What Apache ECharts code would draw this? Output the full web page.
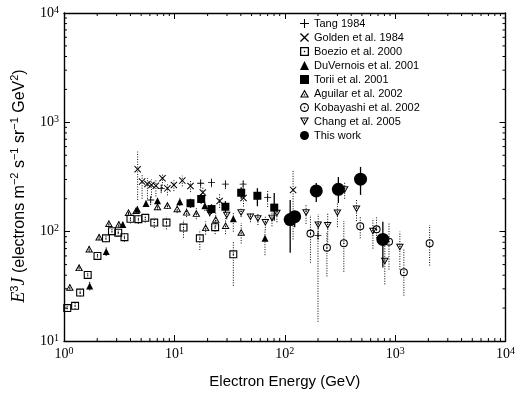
<!DOCTYPE html>
<html>
<head>
<meta charset="utf-8">
<script src="https://cdn.jsdelivr.net/npm/echarts@6/dist/echarts.min.js"></script>
<style>
  html, body { margin: 0; padding: 0; background: #fff; }
  #chart { width: 518px; height: 399px; }
</style>
</head>
<body>
<div id="chart"></div>
<script>
// data: energy (GeV), E^3 J, lower / upper error
var tangE = [6.1, 7.6, 17.3, 21.7, 29, 42, 70, 200];
var tangJ = [195, 249, 277, 282, 272, 272, 205, 92];
var tangLo = [175, 225, 250, 255, 245, 245, 168, 15];
var tangHi = [215, 275, 305, 310, 300, 300, 240, 120];

var goldenE = [4.65, 5.1, 5.7, 6.2, 6.8, 7.8, 8.65, 9.9, 11.8, 14, 18.1, 25.7, 42.3, 119];
var goldenJ = [372, 287, 273, 267, 263, 308, 249, 267, 293, 262, 228, 191, 203, 241];
var goldenLo = [195, 200, 200, 205, 210, 250, 215, 235, 260, 230, 200, 165, 170, 85];
var goldenHi = [540, 330, 310, 300, 295, 340, 280, 295, 325, 290, 255, 220, 240, 370];

var boezioE = [1.07, 1.26, 1.40, 1.64, 2.01, 2.40, 2.72, 3.10, 3.53, 4.0, 4.72, 5.45, 6.57, 8.48, 12.1, 17.0, 23.4, 34.2];
var boezioJ = [20, 21, 27.7, 40.2, 60, 87, 101, 98, 89, 131, 130, 134, 121, 121, 109, 87, 110, 62];
var boezioLo = [18.5, 19.5, 25.5, 37, 55, 80, 93, 90, 81, 119, 118, 121, 108, 105, 88, 68, 95, 32];
var boezioHi = [21.5, 22.5, 30, 43.5, 65, 94, 109, 106, 97, 143, 142, 147, 134, 137, 128, 104, 125, 80];

var duvE = [1.71, 2.41, 3.41, 4.62, 5.53, 7.03, 11.2, 18.9, 34.2, 66.2];
var duvJ = [31.8, 65.9, 116, 160, 181, 192, 188, 173, 131, 87];
var duvLo = [29, 60, 108, 150, 170, 178, 172, 155, 100, 61];
var duvHi = [35, 72, 125, 170, 192, 206, 204, 190, 150, 104];

var toriiE = [14, 17.5, 21.7, 29, 40.3, 56.5, 80.3];
var toriiJ = [182, 199, 161, 169, 227, 213, 166];
var toriiLo = [165, 180, 145, 150, 200, 171, 126];
var toriiHi = [200, 220, 178, 190, 255, 250, 226];

var aguilarE = [1.13, 1.37, 1.69, 2.08, 2.55, 3.14, 3.84, 4.5, 7.03, 8.65, 10.6, 12.9, 15.8, 19.2, 23.7, 29.1, 40.3];
var aguilarJ = [31, 46.9, 69.5, 89.4, 119, 117, 150, 156, 169, 174, 162, 151, 147, 109, 130, 114, 99];
var aguilarLo = [29, 44, 65, 84, 112, 110, 141, 147, 158, 162, 148, 136, 130, 94, 112, 95, 78];
var aguilarHi = [33, 50, 74, 95, 126, 124, 159, 165, 180, 186, 176, 166, 164, 124, 148, 133, 120];

var kobaE = [171, 241, 343, 483, 679, 880, 1200, 2055];
var kobaJ = [96, 71.4, 78.3, 112, 105, 81, 42.5, 78.3];
var kobaLo = [52, 39, 43, 87, 87, 45, 26, 49];
var kobaHi = [142, 100, 125, 140, 135, 120, 70, 115];

var changE = [20.9, 29.8, 40.2, 48.9, 57.1, 66.7, 76.6, 84.9, 156, 201, 245, 300, 349, 447, 629, 806, 1104];
var changJ = [148, 141, 149, 136, 131, 121, 133, 147, 149, 115, 114, 148, 242, 161, 101, 53.6, 72];
var changLo = [138, 130, 136, 122, 115, 103, 112, 122, 118, 85, 80, 110, 200, 125, 70, 33, 45];
var changHi = [158, 152, 162, 150, 147, 139, 154, 172, 180, 145, 150, 186, 280, 198, 132, 80, 100];

var workE = [112, 123, 193, 306, 486, 774];
var workJ = [129, 137, 236, 244, 302, 85];
var workLo = [64, 110, 187, 183, 217, 47];
var workHi = [195, 152, 279, 316, 391, 123];

var names = ['Tang 1984', 'Golden et al. 1984', 'Boezio et al. 2000', 'DuVernois et al. 2001',
  'Torii et al. 2001', 'Aguilar et al. 2002', 'Kobayashi et al. 2002', 'Chang et al. 2005', 'This work'];

// minor tick values for the log axes
var xMinor = [];
var yMinor = [];
[1, 10, 100, 1000].forEach(function (d) {
  for (var k = 2; k <= 9; k++) xMinor.push(d * k);
});
[10, 100, 1000].forEach(function (d) {
  for (var k = 2; k <= 9; k++) yMinor.push(d * k);
});

// marker shapes (outline + centre dot drawn as one filled path)
var SYM_PLUS = 'path://M4.4,0 H5.6 V4.4 H10 V5.6 H5.6 V10 H4.4 V5.6 H0 V4.4 H4.4 Z';
var SYM_CROSS = 'path://M0,1 L1,0 L5,4 L9,0 L10,1 L6,5 L10,9 L9,10 L5,6 L1,10 L0,9 L4,5 Z';
var SYM_SQDOT = 'path://M0,0 H10 V10 H0 Z M1.4,1.4 V8.6 H8.6 V1.4 Z M4.3,4.3 H5.7 V5.7 H4.3 Z';
var SYM_TRIDOT = 'path://M5,0 L10,9 L0,9 Z M5,2.6 L2.1,7.8 L7.9,7.8 Z M4.3,5.3 H5.7 V6.7 H4.3 Z';
var SYM_ITRIDOT = 'path://M0,0 L10,0 L5,9 Z M2.1,1.2 L5,6.4 L7.9,1.2 Z M4.3,2.3 H5.7 V3.7 H4.3 Z';
var SYM_CIRCDOT = 'path://M5,0 A5,5 0 1,1 5,10 A5,5 0 1,1 5,0 Z M5,1.3 A3.7,3.7 0 1,0 5,8.7 A3.7,3.7 0 1,0 5,1.3 Z M4.3,4.3 H5.7 V5.7 H4.3 Z';

function pts(xs, ys) {
  return xs.map(function (x, i) { return [x, ys[i]]; });
}
function bars(xs, lo, hi) {
  return xs.map(function (x, i) { return [x, lo[i], hi[i]]; });
}

var dotted = [].concat(
  bars(tangE, tangLo, tangHi), bars(goldenE, goldenLo, goldenHi),
  bars(boezioE, boezioLo, boezioHi), bars(duvE, duvLo, duvHi),
  bars(aguilarE, aguilarLo, aguilarHi), bars(kobaE, kobaLo, kobaHi),
  bars(changE, changLo, changHi)
);
var solid = [].concat(bars(toriiE, toriiLo, toriiHi), bars(workE, workLo, workHi));

function errBar(dash) {
  return function (params, api) {
    var a = api.coord([api.value(0), api.value(1)]);
    var b = api.coord([api.value(0), api.value(2)]);
    return {
      type: 'line',
      shape: { x1: a[0], y1: a[1], x2: b[0], y2: b[1] },
      style: { stroke: '#000', lineWidth: dash ? 1 : 1.3, lineDash: dash ? [1, 1.5] : null }
    };
  };
}

function supLabel(v) {
  var e = Math.round(Math.log10(v));
  return '{b|10}{s|' + e + '}';
}
var tickRich = {
  b: { fontFamily: 'Liberation Serif', fontSize: 14, color: '#000', lineHeight: 16 },
  s: { fontFamily: 'Liberation Serif', fontSize: 10, color: '#000', verticalAlign: 'top', lineHeight: 16 }
};

function scat(name, xs, ys, symbol, size) {
  return {
    name: name, type: 'scatter', data: pts(xs, ys),
    symbol: symbol, symbolSize: size,
    itemStyle: { color: '#000', opacity: 1 },
    z: 5
  };
}

var chart = echarts.init(document.getElementById('chart'));

chart.setOption({
  animation: false,
  backgroundColor: '#fff',
  grid: { left: 64, right: 9, top: 13, bottom: 58 },
  legend: {
    orient: 'vertical',
    left: 295,
    top: 13,
    itemWidth: 9,
    itemHeight: 9,
    itemGap: 3,
    data: names,
    textStyle: { fontFamily: 'Liberation Sans', fontSize: 11, color: '#000' }
  },
  xAxis: [{
    type: 'log', logBase: 10, min: 1, max: 10000,
    position: 'bottom',
    name: 'Electron Energy (GeV)',
    nameLocation: 'middle', nameGap: 33,
    nameTextStyle: { fontFamily: 'Liberation Sans', fontSize: 15, color: '#000' },
    axisLine: { lineStyle: { color: '#000', width: 1.4 } },
    axisTick: { inside: true, length: 6, lineStyle: { color: '#000' } },
    axisLabel: { formatter: supLabel, rich: tickRich, margin: 5 },
    splitLine: { show: false }
  }, {
    type: 'log', logBase: 10, min: 1, max: 10000,
    position: 'top',
    axisLine: { lineStyle: { color: '#000', width: 1.4 } },
    axisTick: { inside: true, length: 6, lineStyle: { color: '#000' } },
    axisLabel: { show: false },
    splitLine: { show: false }
  }],
  yAxis: [{
    type: 'log', logBase: 10, min: 10, max: 10000,
    position: 'left',
    name: '{i|E}{s|3}{i|J} (electrons m{s|\u22122} s{s|\u22121} sr{s|\u22121} GeV{s|2})',
    nameLocation: 'middle', nameGap: 18, nameRotate: 90,
    nameTextStyle: {
      fontFamily: 'Liberation Sans', fontSize: 16, color: '#000', lineHeight: 20,
      padding: [0, 18, 0, 0],
      rich: {
        i: { fontFamily: 'Liberation Serif', fontStyle: 'italic', fontSize: 18, color: '#000', lineHeight: 20 },
        s: { fontFamily: 'Liberation Sans', fontSize: 11, color: '#000', verticalAlign: 'top', lineHeight: 20 }
      }
    },
    axisLine: { lineStyle: { color: '#000', width: 1.4 } },
    axisTick: { inside: true, length: 6, lineStyle: { color: '#000' } },
    axisLabel: { formatter: supLabel, rich: tickRich, margin: 5 },
    splitLine: { show: false }
  }, {
    type: 'log', logBase: 10, min: 10, max: 10000,
    position: 'right',
    axisLine: { lineStyle: { color: '#000', width: 1.4 } },
    axisTick: { inside: true, length: 6, lineStyle: { color: '#000' } },
    axisLabel: { show: false },
    splitLine: { show: false }
  }],
  series: [
    scat(names[0], tangE, tangJ, SYM_PLUS, 7),
    scat(names[1], goldenE, goldenJ, SYM_CROSS, 7),
    scat(names[2], boezioE, boezioJ, SYM_SQDOT, 8),
    scat(names[3], duvE, duvJ, 'triangle', 7),
    scat(names[4], toriiE, toriiJ, 'rect', 8),
    scat(names[5], aguilarE, aguilarJ, SYM_TRIDOT, [8, 7]),
    scat(names[6], kobaE, kobaJ, SYM_CIRCDOT, 8),
    scat(names[7], changE, changJ, SYM_ITRIDOT, [8, 7]),
    scat(names[8], workE, workJ, 'circle', 13),
    {
      type: 'custom', name: 'errDotted', data: dotted, z: 2,
      encode: { x: 0, y: [1, 2] }, renderItem: errBar(true), silent: true
    },
    {
      type: 'custom', name: 'errSolid', data: solid, z: 3,
      encode: { x: 0, y: [1, 2] }, renderItem: errBar(false), silent: true
    },
    {
      // minor ticks on bottom and top
      type: 'custom', name: 'xMinor', z: 4, silent: true,
      data: xMinor.map(function (v) { return [v, 100]; }),
      encode: { x: 0, y: 1 },
      renderItem: function (params, api) {
        var cs = params.coordSys;
        var x = api.coord([api.value(0), 100])[0];
        var st = { stroke: '#000', lineWidth: 1 };
        return {
          type: 'group', children: [
            { type: 'line', shape: { x1: x, y1: cs.y + cs.height, x2: x, y2: cs.y + cs.height - 3 }, style: st },
            { type: 'line', shape: { x1: x, y1: cs.y, x2: x, y2: cs.y + 3 }, style: st }
          ]
        };
      }
    },
    {
      // minor ticks on left and right
      type: 'custom', name: 'yMinor', z: 4, silent: true,
      data: yMinor.map(function (v) { return [10, v]; }),
      encode: { x: 0, y: 1 },
      renderItem: function (params, api) {
        var cs = params.coordSys;
        var y = api.coord([10, api.value(1)])[1];
        var st = { stroke: '#000', lineWidth: 1 };
        return {
          type: 'group', children: [
            { type: 'line', shape: { x1: cs.x, y1: y, x2: cs.x + 3, y2: y }, style: st },
            { type: 'line', shape: { x1: cs.x + cs.width, y1: y, x2: cs.x + cs.width - 3, y2: y }, style: st }
          ]
        };
      }
    }
  ]
});

window.addEventListener('resize', function () {
  chart.resize();
});
</script>
</body>
</html>
